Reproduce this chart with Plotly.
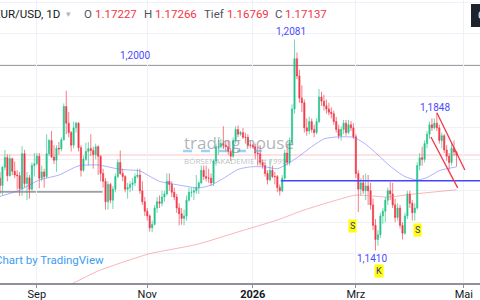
import plotly.graph_objects as go
import pandas as pd

# ---------------- data (EUR/USD daily) ----------------
open_ = [
    # Aug 2025 (from 11th)
    1.1640, 1.1617, 1.1675, 1.1706, 1.1648, 1.1702, 1.1662, 1.1650, 1.1648, 1.1607,
    1.1718, 1.1623, 1.1641, 1.1605, 1.1680,
    # Sep
    1.1686, 1.1710, 1.1640, 1.1660, 1.1645, 1.1718, 1.1760, 1.1707, 1.1697, 1.1735,
    1.1733, 1.1762, 1.1868, 1.1815, 1.1785, 1.1745, 1.1800, 1.1815, 1.1737, 1.1665,
    1.1700, 1.1725,
    # Oct
    1.1734, 1.1728, 1.1715, 1.1740, 1.1710, 1.1655, 1.1630, 1.1565, 1.1620, 1.1570,
    1.1605, 1.1645, 1.1690, 1.1655, 1.1645, 1.1605, 1.1610, 1.1620, 1.1625, 1.1645,
    1.1650, 1.1600, 1.1565,
    # Nov
    1.1535, 1.1520, 1.1482, 1.1493, 1.1545, 1.1565, 1.1560, 1.1580, 1.1590, 1.1630,
    1.1620, 1.1595, 1.1580, 1.1545, 1.1527, 1.1512, 1.1520, 1.1570, 1.1595, 1.1595,
    # Dec
    1.1600, 1.1610, 1.1625, 1.1665, 1.1645, 1.1640, 1.1640, 1.1625, 1.1695, 1.1740,
    1.1740, 1.1750, 1.1745, 1.1740, 1.1725, 1.1710, 1.1760, 1.1795, 1.1780, 1.1785,
    1.1770, 1.1770, 1.1745,
    # Jan 2026
    1.1745, 1.1740, 1.1720, 1.1718, 1.1690, 1.1680, 1.1655, 1.1635, 1.1665, 1.1645,
    1.1645, 1.1610, 1.1600, 1.1640, 1.1720, 1.1690, 1.1755, 1.1860, 1.2020, 1.1965,
    1.1895, 1.1880,
    # Feb
    1.1800, 1.1790, 1.1820, 1.1795, 1.1785, 1.1820, 1.1898, 1.1885, 1.1870, 1.1860,
    1.1850, 1.1845, 1.1820, 1.1795, 1.1775, 1.1795, 1.1815, 1.1785, 1.1810, 1.1800,
    # Mar
    1.1772, 1.1655, 1.1605, 1.1625, 1.1600, 1.1615, 1.1600, 1.1555, 1.1490, 1.1445,
    1.1460, 1.1520, 1.1535, 1.1570, 1.1600, 1.1590, 1.1555, 1.1515, 1.1545, 1.1490,
    1.1465, 1.1520,
    # Apr
    1.1590, 1.1560, 1.1530, 1.1545, 1.1680, 1.1705, 1.1700, 1.1750, 1.1780, 1.1810,
    1.1800, 1.1815, 1.1800, 1.1760, 1.1775, 1.1730, 1.1710, 1.1690, 1.1735, 1.17227,
]
high = [
    1.1660, 1.1678, 1.1730, 1.1716, 1.1715, 1.1705, 1.1693, 1.1665, 1.1660, 1.1742,
    1.1730, 1.1660, 1.1650, 1.1690, 1.1720,
    1.1720, 1.1720, 1.1680, 1.1670, 1.1780, 1.1765, 1.1790, 1.1745, 1.1745, 1.1755,
    1.1770, 1.1878, 1.1918, 1.1850, 1.1790, 1.1820, 1.1820, 1.1818, 1.1745, 1.1710,
    1.1753, 1.1755,
    1.1780, 1.1740, 1.1750, 1.1745, 1.1712, 1.1670, 1.1640, 1.1630, 1.1625, 1.1615,
    1.1655, 1.1700, 1.1728, 1.1670, 1.1650, 1.1625, 1.1630, 1.1640, 1.1655, 1.1670,
    1.1670, 1.1630, 1.1580,
    1.1545, 1.1525, 1.1505, 1.1555, 1.1580, 1.1585, 1.1600, 1.1600, 1.1655, 1.1655,
    1.1630, 1.1610, 1.1590, 1.1560, 1.1545, 1.1540, 1.1585, 1.1610, 1.1610, 1.1610,
    1.1650, 1.1630, 1.1680, 1.1680, 1.1680, 1.1670, 1.1655, 1.1700, 1.1750, 1.1765,
    1.1765, 1.1805, 1.1760, 1.1760, 1.1735, 1.1770, 1.1805, 1.1808, 1.1790, 1.1800,
    1.1785, 1.1780, 1.1760,
    1.1750, 1.1750, 1.1740, 1.1745, 1.1700, 1.1690, 1.1665, 1.1700, 1.1680, 1.1660,
    1.1650, 1.1620, 1.1650, 1.1730, 1.1745, 1.1770, 1.1875, 1.2081, 1.2040, 1.1985,
    1.1935, 1.1890,
    1.1830, 1.1835, 1.1830, 1.1810, 1.1830, 1.1924, 1.1915, 1.1905, 1.1890, 1.1880,
    1.1865, 1.1855, 1.1835, 1.1810, 1.1805, 1.1825, 1.1825, 1.1825, 1.1822, 1.1815,
    1.1780, 1.1665, 1.1640, 1.1650, 1.1655, 1.1650, 1.1625, 1.1575, 1.1510, 1.1475,
    1.1530, 1.1545, 1.1580, 1.1610, 1.1628, 1.1625, 1.1575, 1.1560, 1.1555, 1.1500,
    1.1530, 1.1600,
    1.1600, 1.1570, 1.1560, 1.1690, 1.1720, 1.1740, 1.1760, 1.1790, 1.1820, 1.1830,
    1.1830, 1.1848, 1.1810, 1.1785, 1.1780, 1.1745, 1.1720, 1.1752, 1.1760, 1.17266,
]
low = [
    1.1590, 1.1586, 1.1665, 1.1630, 1.1645, 1.1650, 1.1640, 1.1604, 1.1583, 1.1584,
    1.1610, 1.1570, 1.1575, 1.1600, 1.1645,
    1.1680, 1.1608, 1.1630, 1.1610, 1.1640, 1.1710, 1.1705, 1.1685, 1.1660, 1.1715,
    1.1725, 1.1760, 1.1780, 1.1770, 1.1725, 1.1735, 1.1785, 1.1725, 1.1645, 1.1660,
    1.1695, 1.1680,
    1.1710, 1.1670, 1.1700, 1.1650, 1.1630, 1.1610, 1.1540, 1.1540, 1.1560, 1.1542,
    1.1595, 1.1640, 1.1650, 1.1630, 1.1595, 1.1575, 1.1595, 1.1600, 1.1615, 1.1640,
    1.1590, 1.1555, 1.1520,
    1.1505, 1.1470, 1.1468, 1.1490, 1.1530, 1.1545, 1.1550, 1.1565, 1.1585, 1.1600,
    1.1580, 1.1570, 1.1530, 1.1490, 1.1492, 1.1490, 1.1505, 1.1565, 1.1580, 1.1570,
    1.1590, 1.1590, 1.1620, 1.1635, 1.1630, 1.1625, 1.1615, 1.1615, 1.1680, 1.1715,
    1.1735, 1.1735, 1.1725, 1.1715, 1.1695, 1.1705, 1.1750, 1.1770, 1.1775, 1.1765,
    1.1750, 1.1740, 1.1735,
    1.1735, 1.1700, 1.1680, 1.1680, 1.1670, 1.1645, 1.1620, 1.1630, 1.1640, 1.1620,
    1.1595, 1.1585, 1.1595, 1.1635, 1.1680, 1.1680, 1.1745, 1.1845, 1.1955, 1.1880,
    1.1850, 1.1785,
    1.1775, 1.1780, 1.1785, 1.1770, 1.1780, 1.1815, 1.1870, 1.1855, 1.1845, 1.1840,
    1.1830, 1.1810, 1.1785, 1.1765, 1.1760, 1.1780, 1.1775, 1.1780, 1.1790, 1.1765,
    1.1640, 1.1532, 1.1585, 1.1590, 1.1570, 1.1555, 1.1540, 1.1475, 1.1410, 1.1425,
    1.1450, 1.1495, 1.1500, 1.1555, 1.1570, 1.1545, 1.1500, 1.1505, 1.1480, 1.1445,
    1.1460, 1.1510,
    1.1545, 1.1505, 1.1505, 1.1540, 1.1665, 1.1680, 1.1690, 1.1735, 1.1765, 1.1790,
    1.1795, 1.1790, 1.1750, 1.1735, 1.1720, 1.1695, 1.1665, 1.1680, 1.1710, 1.16769,
]
close = [
    1.1617, 1.1675, 1.1706, 1.1648, 1.1702, 1.1662, 1.1650, 1.1648, 1.1607, 1.1718,
    1.1623, 1.1641, 1.1605, 1.1680, 1.1686,
    1.1710, 1.1640, 1.1660, 1.1645, 1.1718, 1.1760, 1.1707, 1.1697, 1.1735, 1.1733,
    1.1762, 1.1868, 1.1815, 1.1785, 1.1745, 1.1800, 1.1815, 1.1737, 1.1665, 1.1700,
    1.1725, 1.1734,
    1.1728, 1.1715, 1.1740, 1.1710, 1.1655, 1.1630, 1.1565, 1.1620, 1.1570, 1.1605,
    1.1645, 1.1690, 1.1655, 1.1645, 1.1605, 1.1610, 1.1620, 1.1625, 1.1645, 1.1650,
    1.1600, 1.1565, 1.1535,
    1.1520, 1.1482, 1.1493, 1.1545, 1.1565, 1.1560, 1.1580, 1.1590, 1.1630, 1.1620,
    1.1595, 1.1580, 1.1545, 1.1527, 1.1512, 1.1520, 1.1570, 1.1595, 1.1595, 1.1600,
    1.1610, 1.1625, 1.1665, 1.1645, 1.1640, 1.1640, 1.1625, 1.1695, 1.1740, 1.1740,
    1.1750, 1.1745, 1.1740, 1.1725, 1.1710, 1.1760, 1.1795, 1.1780, 1.1785, 1.1770,
    1.1770, 1.1745, 1.1745,
    1.1740, 1.1720, 1.1718, 1.1690, 1.1680, 1.1655, 1.1635, 1.1665, 1.1645, 1.1645,
    1.1610, 1.1600, 1.1640, 1.1720, 1.1690, 1.1755, 1.1860, 1.2020, 1.1965, 1.1895,
    1.1880, 1.1800,
    1.1790, 1.1820, 1.1795, 1.1785, 1.1820, 1.1898, 1.1885, 1.1870, 1.1860, 1.1850,
    1.1845, 1.1820, 1.1795, 1.1775, 1.1795, 1.1815, 1.1785, 1.1810, 1.1800, 1.1772,
    1.1655, 1.1605, 1.1625, 1.1600, 1.1615, 1.1600, 1.1555, 1.1490, 1.1445, 1.1460,
    1.1520, 1.1535, 1.1570, 1.1600, 1.1590, 1.1555, 1.1515, 1.1545, 1.1490, 1.1465,
    1.1520, 1.1590,
    1.1560, 1.1530, 1.1545, 1.1680, 1.1705, 1.1700, 1.1750, 1.1780, 1.1810, 1.1800,
    1.1815, 1.1800, 1.1760, 1.1775, 1.1730, 1.1710, 1.1690, 1.1735, 1.1723, 1.17137,
]
dates = pd.bdate_range("2025-08-11", periods=len(close))

# moving averages
ma50_dates = ["2025-08-11", "2025-08-21", "2025-09-02", "2025-09-12", "2025-09-24", "2025-10-06",
              "2025-10-17", "2025-10-29", "2025-11-04", "2025-11-10", "2025-11-20", "2025-12-02",
              "2025-12-09", "2025-12-17", "2025-12-24", "2025-12-31", "2026-01-08", "2026-01-15",
              "2026-01-21", "2026-01-27", "2026-02-04", "2026-02-11", "2026-02-18", "2026-02-27",
              "2026-03-06", "2026-03-13", "2026-03-20", "2026-03-30", "2026-04-06", "2026-04-10",
              "2026-04-17", "2026-04-28"]
ma50_vals = [1.1582, 1.1602, 1.1634, 1.1650, 1.1679, 1.1682,
             1.1668, 1.1663, 1.1646, 1.1630, 1.1618, 1.1609,
             1.1618, 1.1644, 1.1668, 1.1676, 1.1676, 1.1670,
             1.1685, 1.1705, 1.1740, 1.1765, 1.1771, 1.1770,
             1.1748, 1.1714, 1.1678, 1.1645, 1.1634, 1.1642,
             1.1664, 1.1676]
ma200_dates = ["2025-09-15", "2025-09-22", "2025-10-06", "2025-10-17", "2025-11-04", "2025-11-20",
               "2025-12-02", "2025-12-24", "2026-01-15", "2026-01-30", "2026-02-18", "2026-03-02",
               "2026-03-19", "2026-04-03", "2026-04-28"]
ma200_vals = [1.1290, 1.1307, 1.1345, 1.1370, 1.1400, 1.1418,
              1.1431, 1.1469, 1.1507, 1.1539, 1.1570, 1.1586,
              1.1580, 1.1590, 1.1603]

tick_vals = ["2025-09-01", "2025-11-03", "2026-01-01", "2026-03-02", "2026-05-01"]
tick_text = ["Sep", "Nov", "<b>2026</b>", "Mrz", "Mai"]

x_range = ["2025-08-11", "2026-05-11 14:00"]
y_range = [1.13066, 1.22067]

level_top = 1.2000
level_support = 1.1632
level_old = 1.1597
old_level_end = "2025-10-07 19:00"
support_start = "2026-01-16 10:00"
channel_upper = (["2026-04-16", "2026-05-01 10:00"], [1.1848, 1.1666])
channel_lower = (["2026-04-13 14:00", "2026-04-28 12:00"], [1.1771, 1.1609])

price_labels = [("1,2000", "2025-10-27", 1.2029),
                ("1,2081", "2026-01-22 14:00", 1.2105),
                ("1,1848", "2026-04-15 05:00", 1.1866),
                ("1,1410", "2026-03-10 17:00", 1.1386)]
pattern_labels = [("S", "2026-02-26 12:00", 1.1488),
                  ("S", "2026-04-03 22:00", 1.1475),
                  ("K", "2026-03-13 12:00", 1.1345)]

UP = "#22c48a"
DOWN = "#f23645"
FONT = "Roboto"

fig = go.Figure()
fig.add_trace(go.Scatter(x=ma200_dates, y=ma200_vals, mode="lines",
                         line=dict(color="rgba(245,120,130,0.55)", width=1, shape="spline", smoothing=0.6),
                         hoverinfo="skip"))
fig.add_trace(go.Scatter(x=ma50_dates, y=ma50_vals, mode="lines",
                         line=dict(color="rgba(110,115,250,0.55)", width=1, shape="spline", smoothing=0.6),
                         hoverinfo="skip"))
fig.add_trace(go.Candlestick(
    x=dates, open=open_, high=high, low=low, close=close,
    increasing=dict(line=dict(color="rgba(34,196,138,0.65)", width=1), fillcolor=UP),
    decreasing=dict(line=dict(color="rgba(242,54,69,0.65)", width=1), fillcolor=DOWN),
    whiskerwidth=0, hoverinfo="skip"))

shapes = [
    dict(type="line", xref="paper", x0=0, x1=1, yref="y", y0=level_top, y1=level_top,
         line=dict(color="#a0a0a0", width=2), layer="below"),
    dict(type="line", xref="x", x0=x_range[0], x1=old_level_end, yref="y", y0=level_old, y1=level_old,
         line=dict(color="#a0a0a0", width=2), layer="below"),
    dict(type="line", xref="paper", x0=0, x1=1, yref="y", y0=close[-1], y1=close[-1],
         line=dict(color="rgba(242,54,69,0.3)", width=1), layer="below"),
    dict(type="line", xref="x", x0=support_start, x1=x_range[1], yref="y", y0=level_support, y1=level_support,
         line=dict(color="#4545ff", width=1.5)),
    dict(type="line", xref="x", x0=channel_upper[0][0], x1=channel_upper[0][1], yref="y",
         y0=channel_upper[1][0], y1=channel_upper[1][1], line=dict(color="#f23645", width=1.3)),
    dict(type="line", xref="x", x0=channel_lower[0][0], x1=channel_lower[0][1], yref="y",
         y0=channel_lower[1][0], y1=channel_lower[1][1], line=dict(color="#f23645", width=1.3)),
    # watermark dashes
    dict(type="line", xref="paper", x0=183/480, x1=262/480, yref="paper", y0=1-151/283, y1=1-151/283,
         line=dict(color="rgba(90,180,240,0.6)", width=2.5, dash="dash")),
    # top-right dark button
    dict(type="rect", xref="paper", x0=471/480, x1=1.01, yref="paper", y0=1-27/283, y1=1-4/283,
         fillcolor="#1e222d", line=dict(width=0)),
]

ann = []
def hdr(text, px, color, size=11.5):
    ann.append(dict(text=text, xref="paper", yref="paper", x=px/480, y=1-14/283, xanchor="left",
                    yanchor="middle", showarrow=False, font=dict(family=FONT, size=size, color=color)))

hdr("EUR/USD, 1D", -8, "#131722")
hdr("▾", 64, "#b2b5be", 9)
hdr("O", 82, "#50535e")
hdr(f"{open_[-1]:.5f}", 93, DOWN)
hdr("H", 142, "#50535e")
hdr(f"{high[-1]:.5f}", 153, DOWN)
hdr("Tief", 202, "#50535e")
hdr(f"{low[-1]:.5f}", 225, DOWN)
hdr("C", 273, "#50535e")
hdr(f"{close[-1]:.5f}", 283, DOWN)
ann.append(dict(text="C", xref="paper", yref="paper", x=476/480, y=1-16/283, xanchor="left",
                yanchor="middle", showarrow=False, font=dict(family=FONT, size=11, color="white")))

for t, xd, yv in price_labels:
    ann.append(dict(text=t, x=xd, y=yv, xref="x", yref="y", showarrow=False, xanchor="center",
                    font=dict(family=FONT, size=10, color="#4a4aff")))
for t, xd, yv in pattern_labels:
    ann.append(dict(text=t, x=xd, y=yv, xref="x", yref="y", showarrow=False, bgcolor="#ffff00",
                    xanchor="center", borderpad=1, font=dict(family=FONT, size=9, color="#2f2fb0")))

# watermark + credit
ann.append(dict(text="trading house", xref="paper", yref="paper", x=182/480, y=1-142/283,
                xanchor="left", yanchor="middle", showarrow=False,
                font=dict(family="Open Sans", size=17, color="rgba(120,130,140,0.6)")))
ann.append(dict(text="BÖRSENAKADEMIE <i>est 1999</i>", xref="paper", yref="paper", x=182/480, y=1-160/283,
                xanchor="left", yanchor="middle", showarrow=False,
                font=dict(family="Open Sans", size=8, color="rgba(130,140,150,0.55)")))
ann.append(dict(text="Chart by TradingView", xref="paper", yref="paper", x=-7/480, y=1-260/283,
                xanchor="left", yanchor="middle", showarrow=False,
                font=dict(family=FONT, size=11.5, color="#3d9df3")))

fig.update_layout(
    width=480, height=300, margin=dict(l=0, r=0, t=0, b=17),
    paper_bgcolor="white", plot_bgcolor="white", showlegend=False,
    shapes=shapes, annotations=ann, font=dict(family=FONT),
    xaxis=dict(type="date", range=x_range, rangebreaks=[dict(bounds=["sat", "mon"])],
               tickmode="array", tickvals=tick_vals, ticktext=tick_text,
               showgrid=True, gridcolor="#f0f1f8", gridwidth=1,
               showline=True, linecolor="#8f929b", linewidth=1.5,
               ticks="outside", ticklen=3, tickcolor="#8f929b", ticklabelstandoff=-3,
               tickfont=dict(family=FONT, size=11, color="#131722"),
               rangeslider=dict(visible=False), zeroline=False),
    yaxis=dict(range=y_range, tick0=1.2, dtick=0.01, showticklabels=False, ticks="",
               showgrid=True, gridcolor="#f0f1f8", gridwidth=1, zeroline=False, showline=False),
)

fig.write_html("out.html", config={"displayModeBar": False})
